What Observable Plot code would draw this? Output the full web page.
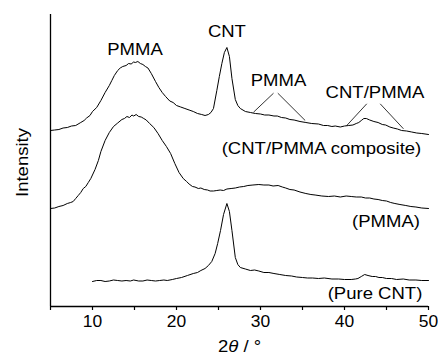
<!DOCTYPE html>
<html>
<head>
<meta charset="utf-8">
<script src="https://cdn.jsdelivr.net/npm/d3@7"></script>
<script src="https://cdn.jsdelivr.net/npm/@observablehq/plot@0.6"></script>
<style>
  html, body { margin: 0; padding: 0; background: #fff; }
</style>
</head>
<body>
<div id="chart"></div>
<script>
// 2θ (degrees) and relative intensity (arbitrary units, stacked traces)
const composite = [
  [5.0,176],[5.5,176.5],[6.0,177],[6.5,178.5],[7.0,179],[7.5,180.5],[8.0,181],[8.6,184],[9.0,186],
  [9.3,188.5],[9.7,191],[10.0,195],[10.5,199],[11.0,206],[11.5,214],[12.0,221],[12.3,226],
  [12.6,231],[13.0,236],[13.3,238.5],[13.6,240],[14.0,241],[14.3,243],[14.6,242.5],[14.9,244.5],
  [15.1,244],[15.4,245],[15.7,243],[16.0,242],[16.3,240],[16.6,238.5],[17.0,233],[17.5,225],
  [17.9,219],[18.3,214],[18.7,210],[19.2,205.5],[19.6,204],[20.0,201],[20.5,199.5],[21.0,198],
  [21.5,196.5],[22.0,195],[22.5,193],[23.0,192],[23.4,191],[23.8,192],[24.1,194],[24.4,198],
  [24.8,216],[25.1,230],[25.4,243],[25.7,254],[26.0,259],[26.3,250],[26.6,228],[27.0,207],
  [27.3,201],[27.6,198],[28.2,195],[28.8,194],[29.4,193],[30.0,192.5],[30.5,191.5],[31.0,191.5],
  [31.6,190.5],[32.0,190.5],[32.5,189],[33.0,188.5],[33.5,187],[34.0,186.5],[34.7,185],[35.4,184],
  [36.1,183],[36.9,182.5],[37.5,181],[38.0,181],[38.5,180],[38.9,180.5],[39.5,179.5],[40.0,180.5],
  [40.5,181],[41.0,181.5],[41.4,183],[41.7,184],[42.0,186],[42.3,188],[42.6,188],[43.0,186.5],
  [43.5,185],[44.0,184],[44.5,182],[44.9,181.5],[45.4,179.5],[45.8,178.5],[46.3,177.5],[46.8,176],
  [47.4,175.5],[48.0,174.5],[48.6,173.5],[49.2,173],[50.0,172]
];
const pmma = [
  [5.0,98],[5.5,98.5],[6.0,100],[6.5,101],[7.0,103],[7.4,104],[7.7,105],[8.0,108],[8.3,111],
  [8.6,114],[8.9,118],[9.2,120],[9.5,124],[9.8,128],[10.3,137],[10.7,146],[11.0,155],[11.5,166],
  [12.0,174],[12.5,180],[13.0,183.5],[13.5,187],[13.8,188],[14.1,190],[14.4,189],[14.7,191.5],
  [14.9,190.5],[15.2,192],[15.5,190],[15.8,189.5],[16.1,188],[16.4,186.5],[16.8,183],[17.3,179],
  [17.8,173],[18.3,166],[18.8,160],[19.3,153],[19.8,143],[20.3,134],[20.8,128],[21.2,125],
  [21.5,122.5],[21.9,120],[22.2,119.5],[22.6,118],[22.9,118.5],[23.3,117],[23.7,116.5],[24.0,115.5],
  [24.4,115.5],[24.8,116],[25.2,116.5],[25.6,116],[26.0,117.5],[26.5,118],[27.0,118.5],[27.5,119.5],
  [28.0,120],[28.5,121],[29.1,121.5],[29.8,122],[30.4,121.5],[31.0,121.5],[31.5,120.5],[32.1,121],
  [32.6,119.5],[33.0,118.5],[33.5,117],[34.0,116.5],[34.7,114.5],[35.4,113],[36.0,112],[36.5,111.5],
  [37.3,110.5],[38.1,110],[38.8,110.5],[39.5,109.5],[40.2,110.5],[40.8,110],[41.4,109.5],[42.0,109.5],
  [42.5,108.5],[43.0,108.5],[43.5,107.5],[44.0,107],[44.5,106],[45.0,105.5],[45.5,104],[46.0,103],
  [46.6,102],[47.3,101],[47.9,100],[48.5,99.5],[49.2,98.5],[50.0,98]
];
const pureCnt = [
  [10.0,25],[10.5,26],[11.0,26],[11.5,25],[12.0,25.5],[12.5,26.5],[13.0,26],[13.5,25.5],[14.0,26],
  [14.5,25.5],[14.9,26.5],[15.5,25.5],[16.0,25.5],[16.5,26.5],[17.0,26],[17.5,25.5],[18.0,26],
  [18.5,26.5],[18.9,26],[19.5,27],[20.0,28],[20.6,29],[21.3,31],[22.0,33],[22.5,34],[22.9,36],
  [23.4,38],[23.8,41],[24.2,45],[24.6,53],[24.9,63],[25.24,76],[25.6,92],[26.0,103],[26.3,95],
  [26.6,76],[27.0,49],[27.3,42],[27.6,39],[28.2,37.5],[28.8,36],[29.3,36.5],[29.8,35.5],[30.4,34],
  [31.0,34],[31.6,33],[32.3,32],[33.0,31],[33.7,30.5],[34.3,29.5],[35.0,29],[35.6,28.5],[36.2,28.5],
  [36.9,28],[37.6,28.5],[38.5,27.5],[39.3,27.5],[40.0,27],[40.8,27],[41.3,27.5],[41.6,28],[42.0,30],
  [42.4,32],[42.8,31],[43.3,30],[43.7,30],[44.1,29],[44.5,29],[45.0,28],[45.6,28],[46.2,27],
  [47.0,27.5],[47.7,26.5],[48.5,26.5],[49.2,26],[50.0,26]
];
const xTicks = [5,10,15,20,25,30,35,40,45,50];
const labels = [
  {x:15.06, y:257, text:"PMMA"},
  {x:26.0, y:275, text:"CNT"},
  {x:32.14, y:226, text:"PMMA"},
  {x:43.63, y:213.5, text:"CNT/PMMA"},
  {x:37.26, y:158, text:"(CNT/PMMA composite)"},
  {x:44.94, y:85, text:"(PMMA)"},
  {x:43.63, y:13, text:"(Pure CNT)"}
];
const leaders = [
  {x1:31.55, y1:213.3, x2:29.17, y2:194.3},
  {x1:32.06, y1:213.3, x2:35.32, y2:186},
  {x1:42.65, y1:202.7, x2:40.27, y2:181},
  {x1:44.25, y1:202.7, x2:47.02, y2:177.7}
];

const plot = Plot.plot({
  width: 438,
  height: 358,
  marginLeft: 50,
  marginRight: 10,
  marginTop: 14,
  marginBottom: 52,
  style: {fontFamily: "'Liberation Sans', Arial, sans-serif", background: "#fff", color: "#000"},
  x: {domain: [5, 50]},
  y: {domain: [0, 292], axis: null},
  marks: [
    Plot.axisX({ticks: xTicks, tickFormat: d => d % 10 === 0 ? String(d) : "", tickSize: 4,
      tickPadding: 5, fontSize: 16, label: null, stroke: "#000", strokeWidth: 1.2}),
    Plot.ruleY([0], {stroke: "#000", strokeWidth: 1.3}),
    Plot.ruleX([5], {y1: 0, y2: 292, stroke: "#000", strokeWidth: 1.3}),
    Plot.line(composite, {x: d => d[0], y: d => d[1], stroke: "#000", strokeWidth: 1}),
    Plot.line(pmma, {x: d => d[0], y: d => d[1], stroke: "#000", strokeWidth: 1}),
    Plot.line(pureCnt, {x: d => d[0], y: d => d[1], stroke: "#000", strokeWidth: 1}),
    Plot.link(leaders, {x1: "x1", y1: "y1", x2: "x2", y2: "y2", stroke: "#000", strokeWidth: 0.8}),
    Plot.text(labels, {x: "x", y: "y", text: "text", fontSize: 17, fill: "#000"}),
    Plot.text(["Intensity"], {x: 1.67, y: 144, text: d => d, rotate: -90, fontSize: 17, fill: "#000"}),
    Plot.text(["2θ / °"], {x: 27.5, y: -40, text: d => d, fontSize: 17, fill: "#000", className: "xlabel"})
  ]
});
document.getElementById("chart").appendChild(plot);
// italicize θ in the x-axis label
d3.select(plot).selectAll("g.xlabel text").each(function() {
  const t = d3.select(this);
  t.text(null);
  t.append("tspan").text("2");
  t.append("tspan").attr("font-style", "italic").text("θ");
  t.append("tspan").text(" / °");
});
// the reference typeface is slightly wider than Liberation Sans
d3.select(plot).selectAll("text").each(function() {
  const tr = this.getAttribute("transform");
  if (tr) this.setAttribute("transform", tr + " scale(1.09,1)");
});
</script>
</body>
</html>
